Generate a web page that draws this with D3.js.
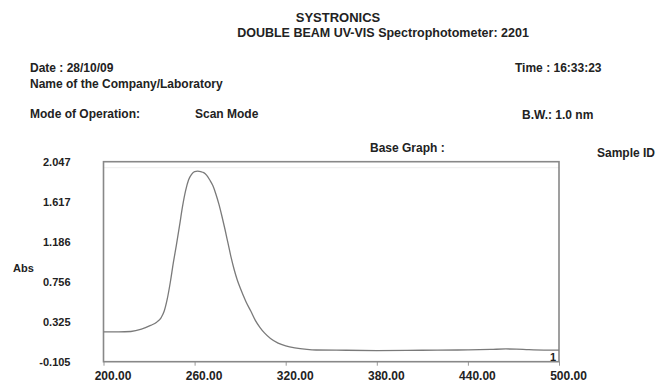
<!DOCTYPE html>
<html><head><meta charset="utf-8">
<script src="https://cdn.jsdelivr.net/npm/d3@7"></script>
<style>
html,body{margin:0;padding:0;background:#fff;}
svg{display:block;}
text{font-family:"Liberation Sans",Arial,sans-serif;fill:#222;}
</style></head>
<body>
<svg id="c" width="658" height="383"></svg>
<script>
const wavelength = [200,210,218,225,231,235,238,240,242,244,246,248,250,252,254,256,258,260,262,264,266,268,270,272,274,276,278,280,282,284,286,288,290,292,294,297,300,303,306,310,315,320,326,334,340,360,380,400,420,440,455,465,472,480,490,500];
const absorbance = [0.215,0.215,0.22,0.245,0.285,0.32,0.37,0.44,0.57,0.75,0.96,1.15,1.35,1.56,1.73,1.85,1.91,1.94,1.945,1.94,1.93,1.90,1.85,1.79,1.70,1.59,1.46,1.32,1.17,1.02,0.89,0.78,0.69,0.61,0.535,0.44,0.34,0.265,0.205,0.145,0.095,0.065,0.043,0.027,0.021,0.018,0.015,0.017,0.02,0.022,0.027,0.032,0.03,0.024,0.02,0.02];
const yTickValues = [2.047,1.617,1.186,0.756,0.325,-0.105];
const yTickLabels = ["2.047","1.617","1.186","0.756","0.325","-0.105"];
const xTickValues = [200,260,320,380,440,500];
const xTickLabels = ["200.00","260.00","320.00","380.00","440.00","500.00"];

const svg = d3.select("#c");
const x = d3.scaleLinear().domain([200,500]).range([103.5,559]);
const y = d3.scaleLinear().domain([-0.105,2.047]).range([361.7,161.7]);

function t(xp,yp,size,str,anchor){
  return svg.append("text").attr("x",xp).attr("y",yp).attr("font-size",size).attr("font-weight","bold")
    .attr("text-anchor",anchor||"start").text(str);
}
// header texts
t(338,22,13,"SYSTRONICS","middle");
t(383,37,12.5,"DOUBLE BEAM UV-VIS Spectrophotometer: 2201","middle");
t(30,72,12,"Date : 28/10/09");
t(30,88,12,"Name of the Company/Laboratory");
t(30,118,12,"Mode of Operation:");
t(195,118,12,"Scan Mode");
t(515,72,12,"Time : 16:33:23");
t(522,119,12,"B.W.: 1.0 nm");
t(370,152,12,"Base Graph :");
t(597,157,12,"Sample ID");

// axes
const yAxis = d3.axisLeft(y).tickValues(yTickValues).tickFormat((d,i)=>yTickLabels[i]).tickSize(0).tickPadding(33);
const gy = svg.append("g").attr("transform",`translate(${x(200)},0)`).call(yAxis);
gy.select(".domain").remove();
gy.selectAll("text").attr("font-size",11).attr("font-weight","bold").attr("font-family","Liberation Sans, Arial, sans-serif").attr("fill","#222");

const xAxis = d3.axisBottom(x).tickValues(xTickValues).tickFormat((d,i)=>xTickLabels[i]).tickSize(4).tickPadding(6);
const gx = svg.append("g").attr("transform",`translate(0,${y(-0.105)})`).call(xAxis);
gx.select(".domain").remove();
gx.selectAll("line").attr("stroke","#999");
gx.selectAll("text").attr("font-size",12).attr("font-weight","bold").attr("dx",9).attr("font-family","Liberation Sans, Arial, sans-serif").attr("fill","#222");

t(13,272,11,"Abs");

// faint inner line
svg.append("line").attr("x1",x(200)).attr("x2",x(500)).attr("y1",y(2.047)+6).attr("y2",y(2.047)+6).attr("stroke","#eee").attr("stroke-width",1);

// frame
svg.append("rect").attr("x",x(200)).attr("y",y(2.047)).attr("width",x(500)-x(200)).attr("height",y(-0.105)-y(2.047))
  .attr("fill","none").attr("stroke","#888").attr("stroke-width",1.6);

// curve
const line = d3.line().x((d,i)=>x(wavelength[i])).y((d,i)=>y(absorbance[i])).curve(d3.curveMonotoneX);
svg.append("path").datum(absorbance).attr("d",line).attr("fill","none").attr("stroke","#7a7a7a").attr("stroke-width",1.3);

// curve id marker
t(x(500)-6,y(-0.105)-1,11,"1","middle");
</script>
</body></html>
